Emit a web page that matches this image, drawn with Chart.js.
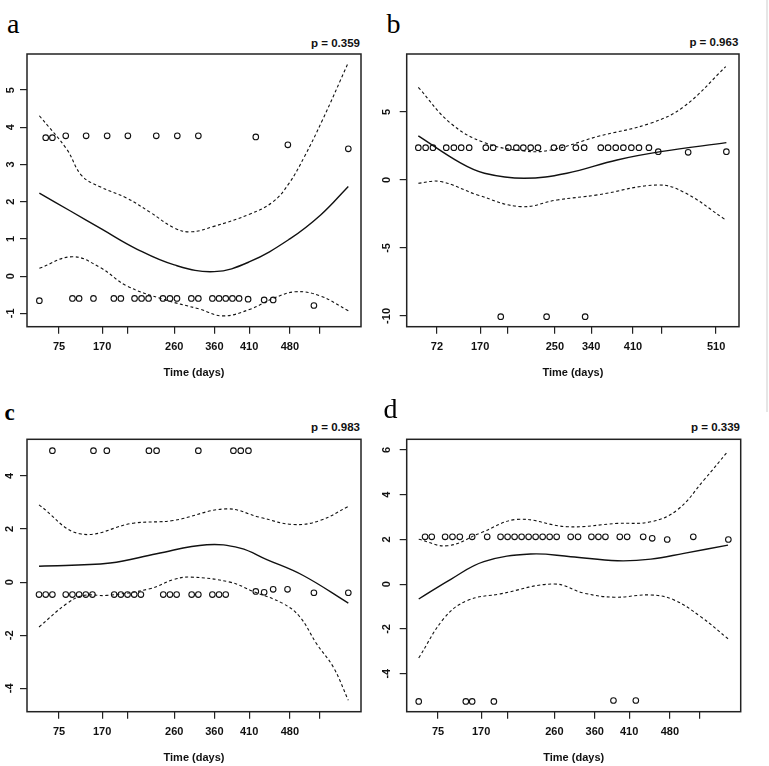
<!DOCTYPE html>
<html>
<head>
<meta charset="utf-8">
<script src="https://cdn.jsdelivr.net/npm/chart.js@4.4.0/dist/chart.umd.min.js"></script>
<style>
body { margin: 0; background: #fff; }
#page { position: relative; width: 769px; height: 766px; overflow: hidden; }
canvas { position: absolute; }
.tag { position: absolute; font-family: "Liberation Serif", "Times New Roman", serif; font-size: 28px; line-height: 28px; color: #000; }
.pval { position: absolute; width: 100px; text-align: right; font-family: "Liberation Sans", Arial, sans-serif; font-weight: bold; font-size: 11.5px; line-height: 12px; color: #111; }
#edge { position: absolute; left: 766px; top: 0; width: 2px; height: 412px; background: #e6e6e6; }
</style>
</head>
<body>
<div id="page">
  <div id="edge"></div>
</div>
<script>
// x values are in transformed-time units (0..100 across the plot box)
const aTickX = [9.6, 22.5, 30.2, 44.1, 56.1, 66.5, 78.7, 87.7];
const aTickLabels = ['75', '170', '', '260', '360', '410', '480', ''];
const aTickY = [-1, 0, 1, 2, 3, 4, 5];
const aPtsX = [5.6, 7.6, 11.6, 17.7, 24.0, 30.2, 38.7, 45.0, 51.3, 68.5, 78.1, 96.2,
  3.7, 13.6, 15.6, 19.9, 26.0, 28.1, 32.2, 34.3, 36.4, 40.7, 42.8, 44.9, 49.2, 51.3, 55.5, 57.5, 59.5, 61.5, 63.5, 66.2, 71.0, 73.7, 85.9];
const aPtsY = [3.72, 3.72, 3.77, 3.77, 3.77, 3.77, 3.77, 3.77, 3.77, 3.74, 3.53, 3.42,
  -0.66, -0.60, -0.60, -0.60, -0.60, -0.60, -0.60, -0.60, -0.60, -0.60, -0.60, -0.60, -0.60, -0.60, -0.60, -0.60, -0.60, -0.60, -0.60, -0.62, -0.64, -0.64, -0.79];
const aFitX = [3.7, 13, 22.4, 33, 44.1, 56, 66.5, 78.7, 88, 96.2];
const aFitY = [2.23, 1.75, 1.26, 0.72, 0.30, 0.12, 0.38, 1.0, 1.65, 2.41];
const aHiX = [3.7, 11.9, 16.4, 21.9, 29.8, 36.8, 44, 49, 55.7, 66.8, 73.7, 78.5, 83, 88.5, 96.2];
const aHiY = [4.31, 3.41, 2.7, 2.4, 2.1, 1.72, 1.3, 1.19, 1.33, 1.67, 2.0, 2.5, 3.2, 4.2, 5.74];
const aLoX = [3.7, 13.6, 21.9, 29.8, 40.7, 51.8, 58.7, 66.8, 73.7, 80.5, 87.7, 96.2];
const aLoY = [0.21, 0.52, 0.23, -0.26, -0.62, -0.89, -1.07, -0.89, -0.6, -0.42, -0.53, -0.93];

const bTickX = [9.1, 22.1, 30.5, 44.6, 55.5, 68.1, 76.8, 93.1];
const bTickLabels = ['72', '170', '', '250', '340', '410', '', '510'];
const bTickY = [-10, -5, 0, 5];
const bPtsX = [3.5, 5.7, 7.9, 11.9, 14.2, 16.4, 18.8, 23.8, 26.0, 30.6, 33.0, 35.1, 37.3, 39.5, 44.3, 46.8, 50.9, 53.4,
  58.4, 60.6, 62.9, 65.2, 67.6, 69.9, 72.9, 75.7, 84.7, 96.2, 28.3, 42.1, 53.7];
const bPtsY = [2.37, 2.37, 2.37, 2.37, 2.37, 2.37, 2.37, 2.37, 2.37, 2.37, 2.37, 2.37, 2.37, 2.37, 2.37, 2.37, 2.37, 2.37,
  2.37, 2.37, 2.37, 2.37, 2.37, 2.37, 2.37, 2.08, 2.03, 2.08, -10.05, -10.05, -10.05];
const bFitX = [3.5, 16.3, 23.4, 35.3, 48.2, 63.3, 76.4, 96.2];
const bFitY = [3.24, 1.23, 0.49, 0.12, 0.49, 1.47, 2.08, 2.74];
const bHiX = [3.5, 13.2, 23.4, 35.3, 43.4, 57.4, 73.4, 83.4, 96.0];
const bHiY = [6.81, 4.17, 2.74, 2.13, 2.2, 3.19, 4.17, 5.39, 8.33];
const bLoX = [3.5, 10.2, 21.3, 34.3, 45.3, 57.4, 75.4, 83.4, 96.0];
const bLoY = [-0.24, -0.12, -1.1, -1.96, -1.47, -1.1, -0.37, -0.9, -2.94];

const cTickX = [9.6, 22.5, 30.2, 44.1, 56.1, 66.5, 78.7, 87.7];
const cTickLabels = ['75', '170', '', '260', '360', '410', '480', ''];
const cTickY = [-4, -2, 0, 2, 4];
const cPtsX = [7.6, 19.9, 23.9, 36.5, 38.8, 51.3, 61.8, 64.0, 66.3,
  3.6, 5.6, 7.6, 11.6, 13.6, 15.6, 17.6, 19.6, 26.1, 28.1, 30.1, 32.1, 34.1, 40.8, 42.8, 44.8, 49.3, 51.3, 55.5, 57.5, 59.5,
  68.5, 71.0, 73.7, 78.0, 85.9, 96.2];
const cPtsY = [4.95, 4.95, 4.95, 4.95, 4.95, 4.95, 4.95, 4.95, 4.95,
  -0.47, -0.47, -0.47, -0.47, -0.47, -0.47, -0.47, -0.47, -0.47, -0.47, -0.47, -0.47, -0.47, -0.47, -0.47, -0.47, -0.47, -0.47, -0.47, -0.47, -0.47,
  -0.35, -0.38, -0.27, -0.27, -0.40, -0.40];
const cFitX = [3.6, 24.9, 38.8, 53.8, 63.8, 71.8, 82.7, 96.2];
const cFitY = [0.60, 0.72, 1.07, 1.41, 1.28, 0.85, 0.25, -0.79];
const cHiX = [3.6, 15.9, 31.8, 43.7, 59.6, 69.8, 79.7, 87.7, 96.2];
const cHiY = [2.91, 1.82, 2.22, 2.32, 2.76, 2.44, 2.17, 2.32, 2.85];
const cLoX = [3.6, 11.9, 16.9, 23.9, 36.8, 43.7, 48.8, 60.8, 67.7, 76.7, 81.7, 86.7, 91.7, 96.2];
const cLoY = [-1.69, -0.81, -0.5, -0.5, -0.25, 0.09, 0.19, 0, -0.35, -0.81, -1.31, -2.32, -3.2, -4.45];

const dTickX = [9.4, 22.3, 30.3, 44.2, 56.3, 66.6, 78.8, 87.6];
const dTickLabels = ['75', '170', '', '260', '360', '410', '480', ''];
const dTickY = [-4, -2, 0, 2, 4, 6];
const dPtsX = [5.5, 7.5, 11.5, 13.7, 15.9, 19.6, 24.1, 28.1, 30.2, 32.3, 34.4, 36.5, 38.6, 40.7, 42.8, 44.9, 49.1, 51.3,
  55.3, 57.4, 59.5, 63.8, 66.0, 70.8, 73.5, 78.0, 85.8, 96.3, 3.6, 17.7, 19.6, 26.1, 61.9, 68.6];
const dPtsY = [2.12, 2.12, 2.12, 2.12, 2.12, 2.12, 2.12, 2.12, 2.12, 2.12, 2.12, 2.12, 2.12, 2.12, 2.12, 2.12, 2.12, 2.12,
  2.12, 2.12, 2.12, 2.12, 2.12, 2.12, 2.05, 2.0, 2.12, 2.0, -5.24, -5.24, -5.24, -5.24, -5.2, -5.2];
const dFitX = [3.6, 13.2, 23.1, 37.1, 49.1, 63.1, 73.1, 83.0, 96.2];
const dFitY = [-0.66, 0.22, 1.01, 1.35, 1.23, 1.05, 1.12, 1.38, 1.75];
const dHiX = [3.6, 12.2, 22.2, 33.1, 48.1, 63.1, 73.1, 81.0, 89.0, 96.2];
const dHiY = [2.01, 1.72, 2.3, 2.9, 2.57, 2.72, 2.79, 3.32, 4.66, 5.95];
const dLoX = [3.6, 11.2, 18.1, 28.1, 44.1, 53.1, 62.1, 73.1, 80.0, 88.0, 96.2];
const dLoY = [-3.30, -1.52, -0.73, -0.43, 0.01, -0.40, -0.58, -0.48, -0.70, -1.45, -2.44];

const SANS = '"Liberation Sans", Arial, sans-serif';
const zip = (xs, ys) => xs.map((x, i) => ({ x: x, y: ys[i] }));

const boxPlugin = {
    id: 'box',
    afterDraw(chart) {
        const { ctx, chartArea: a } = chart;
        ctx.save();
        ctx.strokeStyle = '#222';
        ctx.lineWidth = 1.5;
        ctx.strokeRect(a.left, a.top, a.right - a.left, a.bottom - a.top);
        ctx.restore();
    }
};

function panel(p) {
    const page = document.getElementById('page');

    const tag = document.createElement('div');
    tag.className = 'tag';
    tag.textContent = p.tag;
    tag.style.left = p.tagPos[0] + 'px';
    tag.style.top = p.tagPos[1] + 'px';
    if (p.tagBold) { tag.style.fontWeight = 'bold'; tag.style.fontSize = '23px'; }
    page.appendChild(tag);

    const pv = document.createElement('div');
    pv.className = 'pval';
    pv.textContent = p.pval;
    pv.style.left = (p.pvalPos[0] - 100) + 'px';
    pv.style.top = (p.pvalPos[1] - 6) + 'px';
    page.appendChild(pv);

    const canvas = document.createElement('canvas');
    canvas.width = p.w;
    canvas.height = p.h;
    canvas.style.left = p.x + 'px';
    canvas.style.top = p.y + 'px';
    page.appendChild(canvas);

    const axisGrid = { drawOnChartArea: false, drawTicks: true, tickLength: 7, color: '#222', lineWidth: 1.2 };
    const tickFont = { family: SANS, size: 11, weight: 'bold' };
    const curve = (xs, ys, dash) => ({
        data: zip(xs, ys),
        showLine: true,
        borderColor: '#111',
        borderWidth: dash ? 1.1 : 1.4,
        borderDash: dash ? [3, 2.5] : [],
        pointRadius: 0,
        tension: 0.4
    });

    new Chart(canvas, {
        type: 'scatter',
        data: {
            datasets: [
                curve(p.fitX, p.fitY, false),
                curve(p.hiX, p.hiY, true),
                curve(p.loX, p.loY, true),
                {
                    data: zip(p.ptsX, p.ptsY),
                    pointRadius: 2.8,
                    pointBorderWidth: 1.1,
                    pointBackgroundColor: 'rgba(0,0,0,0)',
                    pointBorderColor: '#111'
                }
            ]
        },
        options: {
            responsive: false,
            animation: false,
            layout: { padding: { top: p.padTop, right: p.padRight, left: 0, bottom: 0 } },
            plugins: { legend: { display: false }, tooltip: { enabled: false } },
            scales: {
                x: {
                    type: 'linear', min: 0, max: 100,
                    afterBuildTicks: s => { s.ticks = p.tickX.map(v => ({ value: v })); },
                    afterFit: s => { s.height = p.xAxisH; },
                    grid: axisGrid,
                    border: { display: false },
                    ticks: { autoSkip: false, maxRotation: 0, padding: 6.4, color: '#111', font: tickFont,
                        callback: (v, i) => p.tickLabels[i] },
                    title: { display: true, text: 'Time (days)', color: '#111',
                        padding: { top: 0, bottom: p.titlePad }, font: { family: SANS, size: 11, weight: 'bold' } }
                },
                y: {
                    type: 'linear', min: p.yMin, max: p.yMax,
                    afterBuildTicks: s => { s.ticks = p.tickY.map(v => ({ value: v })); },
                    afterFit: s => { s.width = p.yAxisW; },
                    grid: axisGrid,
                    border: { display: false },
                    ticks: { autoSkip: false, minRotation: 90, maxRotation: 90, crossAlign: 'center',
                        padding: p.yPad, color: '#111', font: tickFont }
                }
            }
        },
        plugins: [boxPlugin]
    });
}

panel({ tag: 'a', tagPos: [7, 9.6], pval: 'p = 0.359', pvalPos: [360, 43.3],
    x: 0, y: 0, w: 384, h: 383, padTop: 54, padRight: 23, yAxisW: 27, xAxisH: 56.3, titlePad: 3.1, yPad: 4.3,
    yMin: -1.36, yMax: 5.97, tickX: aTickX, tickLabels: aTickLabels, tickY: aTickY,
    ptsX: aPtsX, ptsY: aPtsY, fitX: aFitX, fitY: aFitY, hiX: aHiX, hiY: aHiY, loX: aLoX, loY: aLoY });

panel({ tag: 'b', tagPos: [386.5, 9.6], pval: 'p = 0.963', pvalPos: [738.3, 41.7],
    x: 372, y: 0, w: 397, h: 383, padTop: 54, padRight: 30, yAxisW: 34.7, xAxisH: 56.3, titlePad: 3.7, yPad: 5.2,
    yMin: -10.79, yMax: 9.26, tickX: bTickX, tickLabels: bTickLabels, tickY: bTickY,
    ptsX: bPtsX, ptsY: bPtsY, fitX: bFitX, fitY: bFitY, hiX: bHiX, hiY: bHiY, loX: bLoX, loY: bLoY });

panel({ tag: 'c', tagBold: true, tagPos: [4.5, 398.8], pval: 'p = 0.983', pvalPos: [360, 426.7],
    x: 0, y: 383, w: 384, h: 383, padTop: 56.3, padRight: 23, yAxisW: 27, xAxisH: 54.3, titlePad: 1.1, yPad: 5.6,
    yMin: -4.88, yMax: 5.38, tickX: cTickX, tickLabels: cTickLabels, tickY: cTickY,
    ptsX: cPtsX, ptsY: cPtsY, fitX: cFitX, fitY: cFitY, hiX: cHiX, hiY: cHiY, loX: cLoX, loY: cLoY });

panel({ tag: 'd', tagPos: [383.5, 394.6], pval: 'p = 0.339', pvalPos: [740, 426.7],
    x: 372, y: 383, w: 397, h: 383, padTop: 56.3, padRight: 28.3, yAxisW: 34.7, xAxisH: 54.3, titlePad: 1.1, yPad: 8.3,
    yMin: -5.70, yMax: 6.48, tickX: dTickX, tickLabels: dTickLabels, tickY: dTickY,
    ptsX: dPtsX, ptsY: dPtsY, fitX: dFitX, fitY: dFitY, hiX: dHiX, hiY: dHiY, loX: dLoX, loY: dLoY });
</script>
</body>
</html>
